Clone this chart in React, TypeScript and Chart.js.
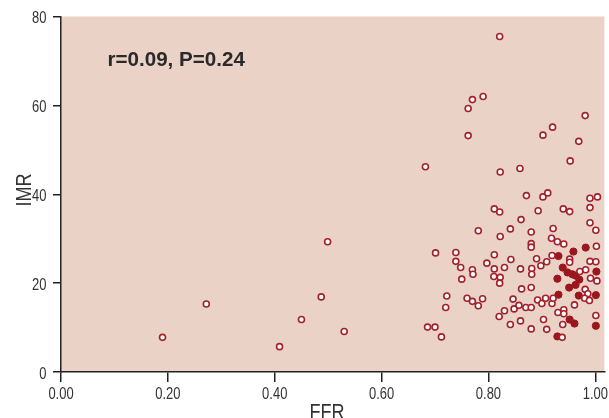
import React, { useEffect, useRef } from "react";
import { Chart, registerables } from "chart.js";

Chart.register(...registerables);

// ---- Data ----
const openFFR: number[] = [
  0.19, 0.272, 0.409, 0.45, 0.487, 0.499, 0.53, 0.686, 0.7, 0.712, 0.72, 0.722, 0.682, 0.701,
  0.821, 0.77, 0.79, 0.762, 0.762, 0.902, 0.92, 0.981, 0.969,
  0.822, 0.859, 0.953, 0.871, 0.902, 0.911, 0.99, 1.004, 0.811, 0.821, 0.893, 0.94, 0.952, 0.99,
  0.861, 0.99, 0.781, 0.841, 0.921, 1.001, 0.822, 0.88, 0.918, 0.929, 0.941, 0.88, 0.88, 1.002,
  0.739, 0.739, 0.811, 0.842, 0.89, 0.919, 0.909, 0.898, 0.952, 0.952, 0.99, 1.001,
  0.748, 0.77, 0.797, 0.811, 0.83, 0.86, 0.881, 0.771, 0.75, 0.81, 0.822, 0.821, 0.881,
  0.971, 0.982, 0.991, 1.003, 0.862, 0.88, 0.981, 0.986, 0.98, 0.989,
  0.76, 0.77, 0.781, 0.789, 0.846, 0.848, 0.83, 0.82, 0.857, 0.87, 0.88, 0.892, 0.9, 0.907,
  0.919, 0.921, 0.961, 0.93, 0.941, 0.941, 1.001, 0.903, 0.86, 0.841, 0.88, 0.909, 0.939, 0.938,
];
const openIMR: number[] = [
  7.8, 15.3, 5.7, 11.8, 16.9, 29.3, 9.1, 10.1, 10.1, 7.9, 14.5, 17.1, 46.2, 26.8,
  75.5, 61.3, 62.0, 59.3, 53.2, 53.3, 55.1, 57.7, 51.9,
  45.0, 45.8, 47.5, 39.7, 39.4, 40.3, 39.1, 39.4, 36.7, 36.0, 36.3, 36.7, 36.1, 37.0,
  34.3, 33.6, 31.8, 32.2, 32.3, 31.9, 30.5, 31.5, 30.1, 29.3, 28.8, 28.9, 28.1, 28.3,
  26.9, 24.9, 26.4, 25.3, 25.5, 26.2, 24.8, 23.9, 25.4, 24.7, 24.9, 24.8,
  23.5, 23.0, 24.5, 23.2, 23.5, 23.2, 23.3, 22.0, 20.9, 21.5, 21.3, 20.0, 22.0,
  22.6, 23.0, 21.1, 20.5, 18.7, 19.0, 18.6, 17.6, 16.6, 16.1,
  16.6, 15.9, 14.9, 16.5, 16.4, 14.2, 13.8, 12.5, 15.0, 14.5, 14.5, 16.2, 15.4, 16.6,
  15.4, 16.6, 15.1, 13.4, 14.0, 13.1, 12.7, 11.8, 11.5, 10.7, 9.7, 9.6, 10.7, 7.8,
];
const filledFFR: number[] = [
  0.931, 0.959, 0.982, 0.939, 0.948, 0.957, 0.963, 1.002, 0.929, 0.97,
  0.963, 0.951, 0.969, 1.001, 0.931, 0.952, 0.961, 1.001, 0.929,
];
const filledIMR: number[] = [
  26.1, 27.1, 28.0, 23.5, 22.4, 22.0, 21.7, 22.6, 21.0, 20.8,
  19.6, 19.0, 17.2, 17.3, 17.4, 11.8, 10.9, 10.4, 8.0,
];
const xTicks: number[] = [0, 0.2, 0.4, 0.6, 0.8, 1.0];
const xTickLabels: string[] = ["0.00", "0.20", "0.40", "0.60", "0.80", "1.00"];
const yTicks: number[] = [0, 20, 40, 60, 80];
const yTickLabels: string[] = ["0", "20", "40", "60", "80"];
const statText = "r=0.09, P=0.24";
const xTitle = "FFR";
const yTitle = "IMR";

const BG = "#ead2c6";
const RED = "#a3202a";
const DARK_RED = "#9a171d";
const AXIS = "#222222";
const TEXT = "#333333";
const SANS = '"Liberation Sans", Arial, Helvetica, sans-serif';
const CONDENSE = 0.82;

const W = 609;
const H = 418;

function drawCondensed(
  ctx: CanvasRenderingContext2D,
  text: string,
  x: number,
  y: number,
  font: string,
  align: "left" | "right" | "center",
  sx: number
) {
  ctx.save();
  ctx.font = font;
  ctx.textBaseline = "alphabetic";
  ctx.textAlign = "left";
  const w = ctx.measureText(text).width * sx;
  let left = x;
  if (align === "center") left = x - w / 2;
  else if (align === "right") left = x - w;
  ctx.translate(left, y);
  ctx.scale(sx, 1);
  ctx.fillText(text, 0, 0);
  ctx.restore();
}

export default function App() {
  const ref = useRef<HTMLCanvasElement | null>(null);

  useEffect(() => {
    if (!ref.current) return;
    const pts = (xs: number[], ys: number[]) => xs.map((x, i) => ({ x, y: ys[i] }));

    const deco = {
      id: "deco",
      beforeDraw(chart: any) {
        const { ctx, chartArea: a } = chart;
        ctx.save();
        ctx.fillStyle = BG;
        ctx.fillRect(a.left, a.top, a.right - a.left, a.bottom - a.top);
        ctx.restore();
      },
      afterDraw(chart: any) {
        const { ctx, chartArea: a, scales } = chart;
        const xs = scales.x;
        const ys = scales.y;
        ctx.save();
        ctx.fillStyle = TEXT;
        const tickFont = "15.8px " + SANS;
        xTicks.forEach((v, i) => {
          drawCondensed(ctx, xTickLabels[i], xs.getPixelForValue(v), a.bottom + 26.5, tickFont, "center", CONDENSE);
        });
        yTicks.forEach((v, i) => {
          drawCondensed(ctx, yTickLabels[i], a.left - 14.5, ys.getPixelForValue(v) + 6.8, tickFont, "right", CONDENSE);
        });

        const titleFont = "22px " + SANS;
        drawCondensed(ctx, xTitle, 327, a.bottom + 47, titleFont, "center", CONDENSE);

        ctx.save();
        ctx.translate(31, 190);
        ctx.rotate(-Math.PI / 2);
        drawCondensed(ctx, yTitle, 0, 0, titleFont, "center", CONDENSE);
        ctx.restore();

        ctx.fillStyle = "#2a2a2a";
        ctx.font = 'bold 20.6px ' + SANS;
        ctx.textAlign = "left";
        ctx.textBaseline = "alphabetic";
        ctx.fillText(statText, xs.getPixelForValue(0.087), ys.getPixelForValue(68.8));
        ctx.restore();
      },
    };

    const chart = new Chart(ref.current, {
      type: "scatter",
      data: {
        datasets: [
          {
            label: "open",
            data: pts(openFFR, openIMR),
            backgroundColor: "#ffffff",
            borderColor: RED,
            borderWidth: 1.6,
            pointRadius: 3,
            pointHoverRadius: 3,
          },
          {
            label: "filled",
            data: pts(filledFFR, filledIMR),
            backgroundColor: DARK_RED,
            borderColor: DARK_RED,
            borderWidth: 1,
            pointRadius: 3.6,
            pointHoverRadius: 3.6,
          },
        ],
      },
      options: {
        animation: false,
        responsive: false,
        maintainAspectRatio: false,
        layout: { padding: { top: 16.5, right: 4, left: 0, bottom: 0 } },
        plugins: {
          legend: { display: false },
          tooltip: { enabled: false },
        },
        scales: {
          x: {
            type: "linear",
            min: 0,
            max: 1.017,
            afterFit: (s: any) => {
              s.height = 46;
            },
            afterBuildTicks: (s: any) => {
              s.ticks = xTicks.map((v) => ({ value: v }));
            },
            ticks: { display: false, includeBounds: false },
            grid: {
              drawOnChartArea: false,
              drawTicks: true,
              tickLength: 10,
              color: AXIS,
              lineWidth: 1.5,
            },
            border: { display: true, color: AXIS, width: 1.5 },
          },
          y: {
            type: "linear",
            min: 0,
            max: 80,
            afterFit: (s: any) => {
              s.width = 61;
            },
            afterBuildTicks: (s: any) => {
              s.ticks = yTicks.map((v) => ({ value: v }));
            },
            ticks: { display: false, includeBounds: false },
            grid: {
              drawOnChartArea: false,
              drawTicks: true,
              tickLength: 8,
              color: AXIS,
              lineWidth: 1.5,
            },
            border: { display: true, color: AXIS, width: 1.5 },
          },
        },
      },
      plugins: [deco],
    });
    return () => chart.destroy();
  }, []);

  return (
    <div style={{ position: "fixed", left: 0, top: 0, width: W, height: H, overflow: "hidden", background: "#ffffff" }}>
      <canvas ref={ref} width={W} height={H} style={{ display: "block", width: W, height: H }} />
    </div>
  );
}
